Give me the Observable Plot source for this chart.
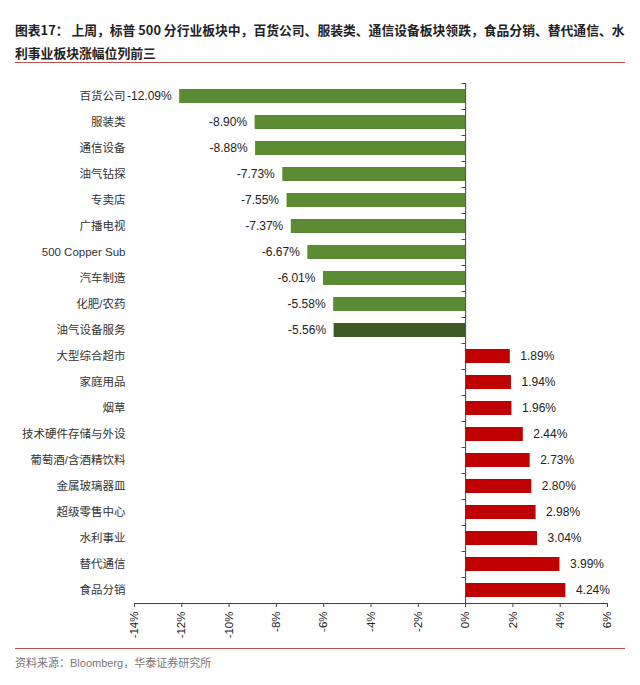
<!DOCTYPE html>
<html>
<head>
<meta charset="utf-8">
<script src="https://cdn.jsdelivr.net/npm/d3@7"></script>
<script src="https://cdn.jsdelivr.net/npm/@observablehq/plot@0.6"></script>
<style>
  html, body { margin: 0; padding: 0; background: #fff; }
  #wrap { position: relative; width: 640px; height: 685px; overflow: hidden; }
  #title { position: absolute; left: 15px; top: 18px; width: 615px; font-family: "Noto Sans CJK SC", sans-serif; font-weight: bold; font-size: 12.8px; line-height: 23px; color: #222; white-space: nowrap; }
  #topline { position: absolute; left: 15px; top: 62px; width: 610px; height: 0; border-top: 1px solid #c0504d; }
  #chart { position: absolute; left: 0; top: 70px; }
  #botline { position: absolute; left: 15px; top: 648px; width: 610px; height: 0; border-top: 1px solid #c0504d; }
  #caption { position: absolute; left: 15px; top: 654px; font-family: "Liberation Sans", "Noto Sans CJK SC", sans-serif; font-size: 11px; color: #777; white-space: nowrap; }
</style>
</head>
<body>
<div id="wrap">
  <div id="title">图表17： 上周，标普 500 分行业板块中，百货公司、服装类、通信设备板块领跌，食品分销、替代通信、水<br>利事业板块涨幅位列前三</div>
  <div id="topline"></div>
  <div id="chart"></div>
  <div id="botline"></div>
  <div id="caption">资料来源：Bloomberg，华泰证券研究所</div>
</div>
<script>
const categories = ["百货公司","服装类","通信设备","油气钻探","专卖店","广播电视","500 Copper Sub","汽车制造","化肥/农药","油气设备服务","大型综合超市","家庭用品","烟草","技术硬件存储与外设","葡萄酒/含酒精饮料","金属玻璃器皿","超级零售中心","水利事业","替代通信","食品分销"];
const values = [-12.09,-8.90,-8.88,-7.73,-7.55,-7.37,-6.67,-6.01,-5.58,-5.56,1.89,1.94,1.96,2.44,2.73,2.80,2.98,3.04,3.99,4.24];
const xTicks = [-14,-12,-10,-8,-6,-4,-2,0,2,4,6];
const highlighted = ["油气设备服务"];

const data = categories.map((name, i) => ({name, value: values[i]}));
const fillFor = d => highlighted.includes(d.name) ? "#3e5a27" : (d.value < 0 ? "#5b8c33" : "#c00000");
const fmt = v => v.toFixed(2) + "%";

const chart = Plot.plot({
  width: 640,
  height: 575,
  marginTop: 13,
  marginBottom: 42,
  marginLeft: 134,
  marginRight: 33,
  style: {fontFamily: "'Liberation Sans', 'Noto Sans CJK SC', sans-serif", fontSize: "11px", color: "#222", background: "#fff"},
  x: {domain: [-14, 6]},
  y: {domain: categories, paddingInner: 0.46, paddingOuter: 0.23},
  marks: [
    Plot.barX(data, {x: "value", y: "name", fill: fillFor}),
    Plot.ruleY(categories, {y: d => d, x1: -0.15, x2: 0, dy: -13, stroke: "#444"}),
    Plot.ruleX([0], {stroke: "#444"}),
    Plot.frame({anchor: "bottom", stroke: "#444"}),
    Plot.axisX({ticks: xTicks, tickFormat: d => d + "%", tickRotate: -90, tickSize: 4, tickPadding: 4, fontSize: 11.5, stroke: "#444", label: null}),
    Plot.axisY({tickSize: 0, tickPadding: 9, fontSize: 11.5, fill: "#333", label: null}),
    Plot.text(data.filter(d => d.value < 0), {x: "value", y: "name", text: d => fmt(d.value), textAnchor: "end", dx: -8, fontSize: 12, fill: "#222"}),
    Plot.text(data.filter(d => d.value >= 0), {x: "value", y: "name", text: d => fmt(d.value), textAnchor: "start", dx: 10, fontSize: 12, fill: "#222"})
  ]
});
document.getElementById("chart").appendChild(chart);
</script>
</body>
</html>
